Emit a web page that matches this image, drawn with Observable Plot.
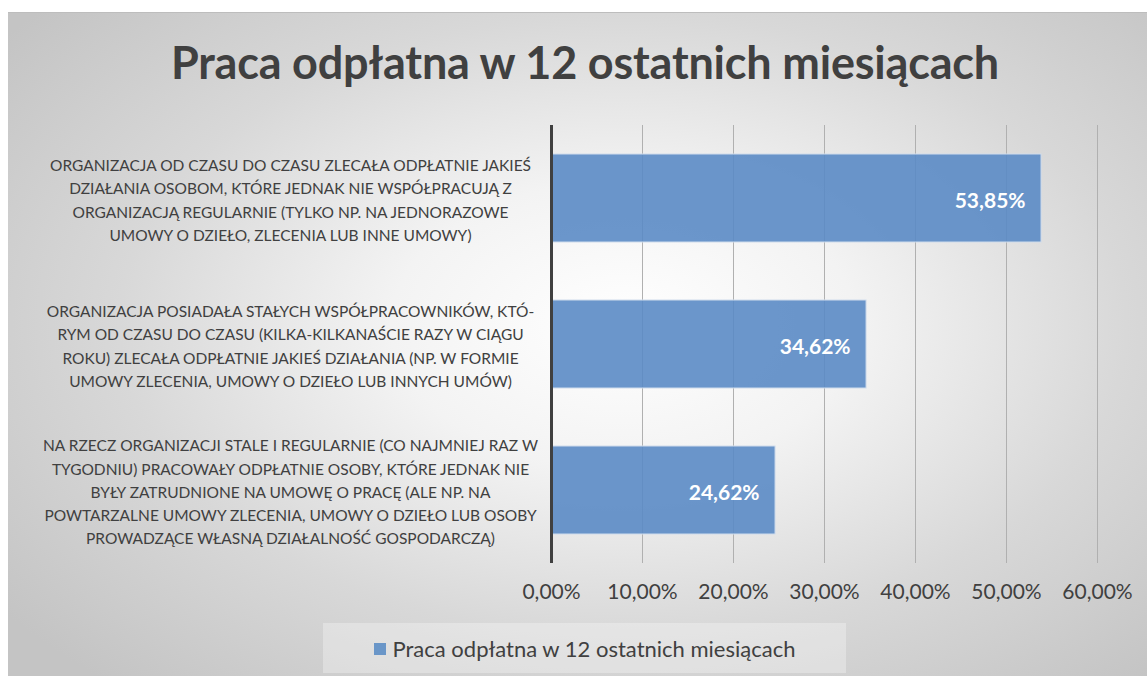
<!DOCTYPE html>
<html>
<head>
<meta charset="utf-8">
<script src="https://cdn.jsdelivr.net/npm/d3@7"></script>
<script src="https://cdn.jsdelivr.net/npm/@observablehq/plot@0.6"></script>
<style>
  html, body { margin: 0; padding: 0; background: #ffffff; }
  body { width: 1147px; height: 676px; position: relative; overflow: hidden; font-family: Lato, "Open Sans", sans-serif; }
  #card {
    position: absolute; left: 8px; top: 12px; width: 1139px; height: 664px;
    background: radial-gradient(ellipse 68% 72% at 54% 47%, #ffffff 0%, #f3f3f3 30%, #d8d8d8 65%, #c4c4c4 100%);
    border-top: 1px solid #bdbdbd;
  }
  #title {
    position: absolute; left: 0; width: 1154px; top: 22px; text-align: center;
    font-weight: 700; font-size: 45px; color: #404040; letter-spacing: -0.2px;
  }
  #chart { position: absolute; left: 0; top: 85px; }
  #legend {
    position: absolute; left: 315px; top: 610px; width: 523px; height: 50px;
    background: rgba(255,255,255,0.3);
    display: flex; align-items: center; justify-content: center;
    font-size: 22px; color: #404040;
  }
  #legend .sw { width: 12px; height: 12px; background: #6a96c8; margin-right: 7px; margin-top: 2px; }
</style>
</head>
<body>
<div id="card">
  <div id="title"></div>
  <div id="chart"></div>
  <div id="legend"><span class="sw"></span><span id="legtext"></span></div>
</div>
<script>
const title = "Praca odpłatna w 12 ostatnich miesiącach";
const seriesName = "Praca odpłatna w 12 ostatnich miesiącach";
const categories = [
  "ORGANIZACJA OD CZASU DO CZASU ZLECAŁA ODPŁATNIE JAKIEŚ\nDZIAŁANIA OSOBOM, KTÓRE JEDNAK NIE WSPÓŁPRACUJĄ Z\nORGANIZACJĄ REGULARNIE (TYLKO NP. NA JEDNORAZOWE\nUMOWY O DZIEŁO, ZLECENIA LUB INNE UMOWY)",
  "ORGANIZACJA POSIADAŁA STAŁYCH WSPÓŁPRACOWNIKÓW, KTÓ-\nRYM OD CZASU DO CZASU (KILKA-KILKANAŚCIE RAZY W CIĄGU\nROKU) ZLECAŁA ODPŁATNIE JAKIEŚ DZIAŁANIA (NP. W FORMIE\nUMOWY ZLECENIA, UMOWY O DZIEŁO LUB INNYCH UMÓW)",
  "NA RZECZ ORGANIZACJI STALE I REGULARNIE (CO NAJMNIEJ RAZ W\nTYGODNIU) PRACOWAŁY ODPŁATNIE OSOBY, KTÓRE JEDNAK NIE\nBYŁY ZATRUDNIONE NA UMOWĘ O PRACĘ (ALE NP. NA\nPOWTARZALNE UMOWY ZLECENIA, UMOWY O DZIEŁO LUB OSOBY\nPROWADZĄCE WŁASNĄ DZIAŁALNOŚĆ GOSPODARCZĄ)"
];
const values = [0.5385, 0.3462, 0.2462];
const xTicks = [0, 0.1, 0.2, 0.3, 0.4, 0.5, 0.6];

const data = categories.map((c, i) => ({category: c, value: values[i]}));
const fmt = v => (v * 100).toFixed(2).replace(".", ",") + "%";

document.getElementById("title").textContent = title;
document.getElementById("legtext").textContent = seriesName;

const chart = Plot.plot({
  width: 1139,
  height: 515,
  marginLeft: 543,
  marginRight: 50,
  marginTop: 27,
  marginBottom: 50,
  style: {background: "transparent", fontFamily: "Lato, 'Open Sans', sans-serif", color: "#404040", overflow: "visible"},
  x: {domain: [0, 0.6], label: null},
  y: {domain: categories, paddingInner: 0.4, paddingOuter: 0.19, label: null},
  marks: [
    Plot.gridX(xTicks, {stroke: "#b0b0b0", strokeOpacity: 1, strokeWidth: 1}),
    Plot.barX(data, {y: "category", x: "value", fill: "#5b8bc5", fillOpacity: 0.9, stroke: "#cfdcec", strokeWidth: 1}),
    Plot.ruleX([0], {stroke: "#404040", strokeWidth: 3}),
    Plot.text(data, {y: "category", x: "value", text: d => fmt(d.value), textAnchor: "end", dx: -16, dy: 3, fill: "white", fontWeight: "bold", fontSize: 21}),
    Plot.axisX(xTicks, {tickSize: 0, tickPadding: 21, tickFormat: fmt, fontSize: 21, fill: "#404040", label: null}),
    Plot.axisY({tickSize: 0, textAnchor: "middle", dx: -261, tickPadding: 0, fontSize: 15.5, lineHeight: 1.5, fill: "#404040", lineWidth: Infinity, label: null})
  ]
});
document.getElementById("chart").appendChild(chart);
</script>
</body>
</html>
